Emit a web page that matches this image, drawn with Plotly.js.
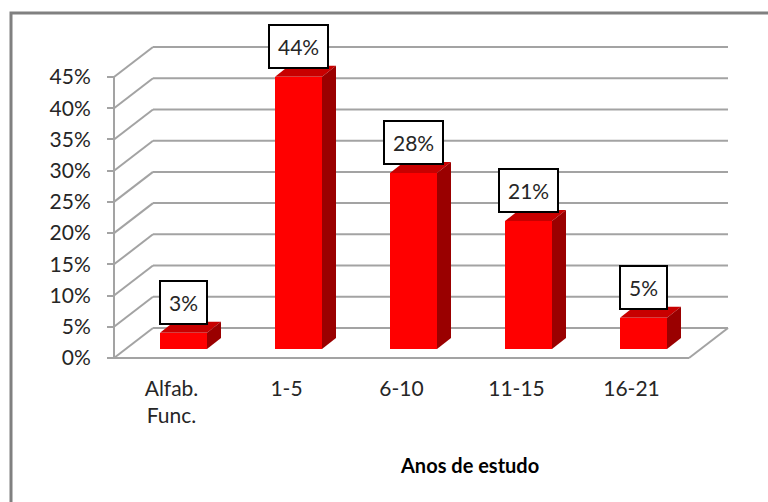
<!DOCTYPE html>
<html>
<head>
<meta charset="utf-8">
<script src="https://cdn.plot.ly/plotly-3.0.1.min.js"></script>
<style>
  html, body { margin: 0; padding: 0; background: #ffffff; }
  #chart { width: 768px; height: 502px; }
</style>
</head>
<body>
<div id="chart"></div>
<script>
// ---- data ----
const categories = ["Alfab.<br>Func.", "1-5", "6-10", "11-15", "16-21"];
const values = [2.6, 43.6, 28.2, 20.5, 5.0];
const yTickValues = [0, 5, 10, 15, 20, 25, 30, 35, 40, 45];
const yTickLabels = ["0%", "5%", "10%", "15%", "20%", "25%", "30%", "35%", "40%", "45%"];
const xTitle = "Anos de estudo";

// ---- geometry (pixels) ----
const W = 768, H = 502;
const FRONT_L = 114, FRONT_B = 358, CW = 115;
const PPU = (358 - 77) / 45;           // px per percent point
const BACK_DX = 39, BACK_DY = 30;      // depth of the back wall
const BAR_DX = 12, BAR_DY = 9;         // front face of bars offset
const DEPTH_DX = 14, DEPTH_DY = 11;    // bar thickness in depth
const PAD = 8;
const n = categories.length;
const mL = FRONT_L - PAD, mB = H - FRONT_B - PAD, mT = 36;
const plotR = FRONT_L + n * CW + BACK_DX + 2;
const mR = W - plotR;
const plotW = plotR - mL, plotH = H - mT - mB;

const xPos = categories.map((c, i) => i + 0.5);
const xBounds = categories.map((c, i) => i).concat([n]);
const labels = values.map(v => Math.round(v) + "%");
const yTop = yTickValues[yTickValues.length - 1];

const dxB = BACK_DX / CW, dyB = BACK_DY / PPU;
const ddx = DEPTH_DX / CW, ddy = DEPTH_DY / PPU;
const barW = 47 / CW;

const GRID = "#a3a3a3";
const FONT = "Lato, 'Open Sans', sans-serif";
const TXT = "#262626";

const pxX = px => (px - mL) / plotW;
const pxY = py => (H - mB - py) / plotH;

const shapes = [];
// back wall lines and diagonals
yTickValues.forEach(v => {
  shapes.push({type: "line", xref: "x", yref: "y", layer: "below",
    x0: dxB, y0: v + dyB, x1: n + dxB, y1: v + dyB, line: {color: GRID, width: 2}});
  shapes.push({type: "line", xref: "x", yref: "y", layer: "below",
    x0: 0, y0: v, x1: dxB, y1: v + dyB, line: {color: GRID, width: 2}});
});
// floor right edge
shapes.push({type: "line", xref: "x", yref: "y", layer: "below",
  x0: n, y0: 0, x1: n + dxB, y1: dyB, line: {color: GRID, width: 2}});
// front baseline
shapes.push({type: "line", xref: "x", yref: "y", layer: "below",
  x0: 0, y0: 0, x1: n, y1: 0, line: {color: GRID, width: 2}});
// front y axis line
shapes.push({type: "line", xref: "x", yref: "y", layer: "below",
  x0: 0, y0: 0, x1: 0, y1: yTop, line: {color: GRID, width: 2}});

// bar 3D faces
values.forEach((v, i) => {
  const xl = xPos[i] - barW / 2, xr = xPos[i] + barW / 2;
  shapes.push({type: "path", xref: "x2", yref: "y2", layer: "above",
    path: `M${xl},${v} L${xr},${v} L${xr + ddx},${v + ddy} L${xl + ddx},${v + ddy} Z`,
    fillcolor: "#c80000", line: {width: 0}});
  shapes.push({type: "path", xref: "x2", yref: "y2", layer: "above",
    path: `M${xr},0 L${xr},${v} L${xr + ddx},${v + ddy} L${xr + ddx},${ddy} Z`,
    fillcolor: "#9a0000", line: {width: 0}});
});

// outer frame
shapes.push({type: "rect", xref: "paper", yref: "paper", layer: "above",
  x0: pxX(11), x1: pxX(790), y0: pxY(530), y1: pxY(13),
  line: {color: "#808080", width: 3}, fillcolor: "rgba(0,0,0,0)"});

const annotations = values.map((v, i) => ({
  xref: "x2", yref: "y2", x: xPos[i], y: v, yanchor: "bottom", yshift: 8,
  text: labels[i], showarrow: false,
  bgcolor: "#ffffff", bordercolor: "#000000", borderwidth: 2, borderpad: 8,
  font: {family: FONT, size: 21, color: TXT}
}));
annotations.push({
  xref: "paper", yref: "paper", x: pxX(469), y: pxY(465),
  xanchor: "center", yanchor: "middle", showarrow: false,
  text: "<b>" + xTitle + "</b>", font: {family: FONT, size: 20, color: "#000000"}
});

const traces = [{
  type: "bar", x: xPos, y: values, xaxis: "x2", yaxis: "y2",
  width: barW, marker: {color: "#ff0000", line: {width: 0}},
  hoverinfo: "skip", showlegend: false
}];

const layout = {
  width: W, height: H,
  margin: {l: mL, r: mR, t: mT, b: mB, autoexpand: false},
  paper_bgcolor: "#ffffff", plot_bgcolor: "rgba(0,0,0,0)",
  showlegend: false,
  xaxis: {
    range: [-PAD / CW, (plotW - PAD) / CW], domain: [0, 1],
    anchor: "free", position: PAD / plotH,
    tickmode: "array", tickvals: xPos, ticktext: categories,
    ticks: "", showgrid: false, zeroline: false, showline: false,
    ticklabelstandoff: 16,
    tickfont: {family: FONT, size: 21, color: TXT}, fixedrange: true
  },
  xaxis3: {
    overlaying: "x", range: [-PAD / CW, (plotW - PAD) / CW],
    anchor: "free", position: PAD / plotH,
    tickmode: "array", tickvals: xBounds, ticktext: xBounds.map(() => ""),
    ticks: "outside", ticklen: 7, tickwidth: 2, tickcolor: GRID,
    showticklabels: false, showgrid: false, zeroline: false, showline: false
  },
  yaxis: {
    range: [-PAD / PPU, (plotH - PAD) / PPU], domain: [0, 1],
    anchor: "free", position: PAD / plotW,
    tickmode: "array", tickvals: yTickValues, ticktext: yTickLabels,
    ticks: "outside", ticklen: 7, tickwidth: 2, tickcolor: GRID,
    ticklabelstandoff: 12,
    showgrid: false, zeroline: false, showline: false,
    tickfont: {family: FONT, size: 21, color: TXT}, fixedrange: true
  },
  xaxis2: {
    domain: [(PAD + BAR_DX) / plotW, 1], range: [0, (plotW - PAD - BAR_DX) / CW],
    anchor: "y2", visible: false, fixedrange: true
  },
  yaxis2: {
    domain: [(PAD + BAR_DY) / plotH, 1], range: [0, (plotH - PAD - BAR_DY) / PPU],
    anchor: "x2", visible: false, fixedrange: true
  },
  shapes: shapes,
  annotations: annotations,
  bargap: 0
};

Plotly.newPlot("chart", traces, layout, {displayModeBar: false, staticPlot: true});
</script>
</body>
</html>
